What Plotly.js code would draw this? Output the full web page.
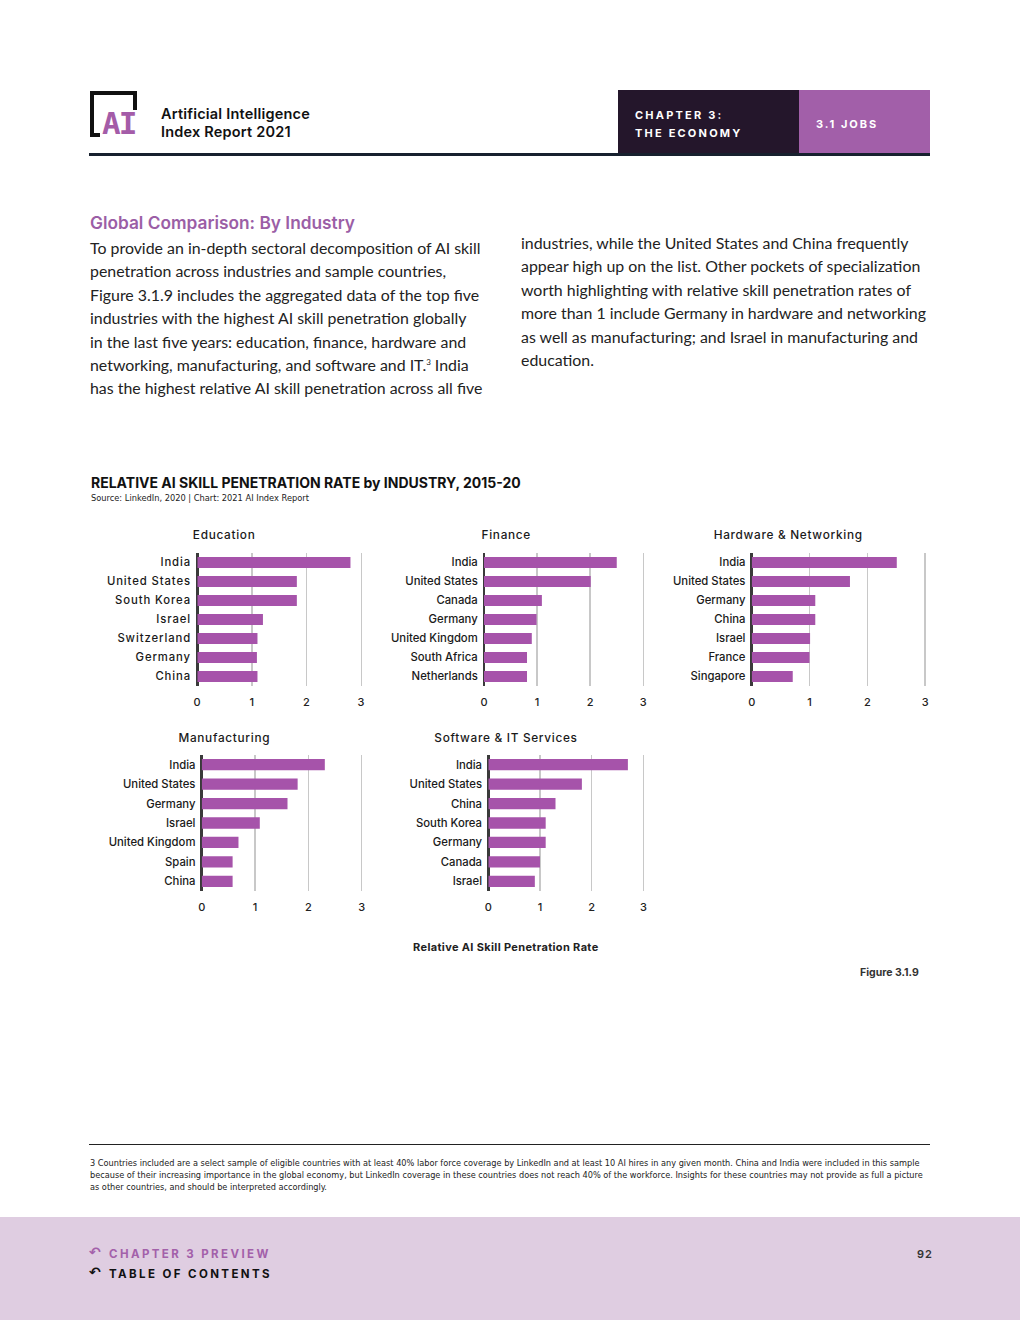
<!DOCTYPE html>
<html>
<head>
<meta charset="utf-8">
<script src="https://cdn.plot.ly/plotly-3.0.1.min.js"></script>
<style>
  html,body{margin:0;padding:0;background:#fff;}
  body{width:1020px;height:1320px;position:relative;overflow:hidden;font-family:Inter,"Noto Sans",sans-serif;}
  .abs{position:absolute;white-space:nowrap;}
  #chart{position:absolute;left:0;top:0;width:1020px;height:1320px;z-index:2;}
  #chart .xtick text{letter-spacing:0.7px;}
  #chart .ytick text{letter-spacing:0.9px;}
  .body{font-family:Lato,"Open Sans",sans-serif;font-size:15.9px;line-height:23.4px;color:#222;}
</style>
</head>
<body>
<!-- header -->
<div class="abs" style="left:90px;top:91px;width:47px;height:4px;background:#111;"></div>
<div class="abs" style="left:90px;top:91px;width:4px;height:46px;background:#111;"></div>
<div class="abs" style="left:133px;top:91px;width:4px;height:19px;background:#111;"></div>
<div class="abs" style="left:90px;top:133px;width:10px;height:4px;background:#111;"></div>
<div class="abs" style="left:102px;top:106px;font-family:'DejaVu Sans Mono',monospace;font-weight:bold;font-size:31px;color:#a45ca8;letter-spacing:-2px;line-height:34px;">AI</div>
<div class="abs" style="left:161px;top:105px;font-family:Inter,sans-serif;font-weight:600;font-size:14.5px;line-height:18px;color:#111;letter-spacing:0.2px;">Artificial Intelligence<br>Index Report 2021</div>
<div class="abs" style="left:618px;top:90px;width:181px;height:63px;background:#24162b;"></div>
<div class="abs" style="left:799px;top:90px;width:131px;height:63px;background:#a25fa9;"></div>
<div class="abs" style="left:635px;top:106px;font-weight:700;font-size:11px;letter-spacing:2.2px;line-height:18px;color:#fff;">CHAPTER 3:<br>THE ECONOMY</div>
<div class="abs" style="left:816px;top:117px;font-weight:700;font-size:11px;letter-spacing:2px;color:#fff;">3.1 JOBS</div>
<div class="abs" style="left:89px;top:153px;width:841px;height:3px;background:#17202e;"></div>

<!-- heading and text -->
<div class="abs" style="left:90px;top:212px;font-family:Inter,sans-serif;font-weight:600;font-size:17.3px;color:#9b5ea6;">Global Comparison: By Industry</div>
<div class="abs body" style="left:90px;top:236px;">To provide an in-depth sectoral decomposition of AI skill<br>penetration across industries and sample countries,<br>Figure 3.1.9 includes the aggregated data of the top five<br>industries with the highest AI skill penetration globally<br>in the last five years: education, finance, hardware and<br>networking, manufacturing, and software and IT.<sup style="font-size:8px;line-height:0">3</sup> India<br>has the highest relative AI skill penetration across all five</div>
<div class="abs body" style="left:521px;top:231px;">industries, while the United States and China frequently<br>appear high up on the list. Other pockets of specialization<br>worth highlighting with relative skill penetration rates of<br>more than 1 include Germany in hardware and networking<br>as well as manufacturing; and Israel in manufacturing and<br>education.</div>

<!-- footnote -->
<div class="abs" style="left:89px;top:1144px;width:841px;height:1px;background:#222;"></div>
<div class="abs" style="left:90px;top:1157px;font-family:'Liberation Sans Narrow','DejaVu Sans Condensed',sans-serif;font-size:9.1px;line-height:12px;color:#222;">3 Countries included are a select sample of eligible countries with at least 40% labor force coverage by LinkedIn and at least 10 AI hires in any given month. China and India were included in this sample<br>because of their increasing importance in the global economy, but LinkedIn coverage in these countries does not reach 40% of the workforce. Insights for these countries may not provide as full a picture<br>as other countries, and should be interpreted accordingly.</div>

<!-- footer -->
<div class="abs" style="left:0;top:1217px;width:1020px;height:103px;background:#dfcde1;"></div>
<div class="abs" style="left:89px;top:1244px;font-family:'DejaVu Sans',sans-serif;font-weight:700;font-size:14px;color:#a360aa;">&#x21B6;</div>
<div class="abs" style="left:109px;top:1247px;font-weight:700;font-size:11.5px;letter-spacing:2.4px;color:#a360aa;">CHAPTER 3 PREVIEW</div>
<div class="abs" style="left:89px;top:1264px;font-family:'DejaVu Sans',sans-serif;font-weight:700;font-size:14px;color:#111;">&#x21B6;</div>
<div class="abs" style="left:109px;top:1267px;font-weight:700;font-size:11.5px;letter-spacing:2.4px;color:#111;">TABLE OF CONTENTS</div>
<div class="abs" style="left:917px;top:1247px;font-weight:600;font-size:11px;letter-spacing:1px;color:#333;">92</div>

<div id="chart"></div>
<script>
// ---- data ----
const industries = ["Education", "Finance", "Hardware & Networking", "Manufacturing", "Software & IT Services"];

const educationCountries = ["India", "United States", "South Korea", "Israel", "Switzerland", "Germany", "China"];
const educationValues    = [2.80, 1.82, 1.82, 1.20, 1.10, 1.09, 1.10];

const financeCountries = ["India", "United States", "Canada", "Germany", "United Kingdom", "South Africa", "Netherlands"];
const financeValues    = [2.50, 2.01, 1.09, 0.99, 0.90, 0.81, 0.81];

const hardwareCountries = ["India", "United States", "Germany", "China", "Israel", "France", "Singapore"];
const hardwareValues    = [2.51, 1.70, 1.10, 1.10, 1.01, 1.00, 0.71];

const manufacturingCountries = ["India", "United States", "Germany", "Israel", "United Kingdom", "Spain", "China"];
const manufacturingValues    = [2.31, 1.80, 1.61, 1.09, 0.69, 0.58, 0.58];

const softwareCountries = ["India", "United States", "China", "South Korea", "Germany", "Canada", "Israel"];
const softwareValues    = [2.70, 1.81, 1.30, 1.11, 1.11, 1.00, 0.90];

const xTickValues = [0, 1, 2, 3];
const xAxisTitle = "Relative AI Skill Penetration Rate";
const chartTitle = "RELATIVE AI SKILL PENETRATION RATE by INDUSTRY, 2015-20";
const chartSource = "Source: LinkedIn, 2020 | Chart: 2021 AI Index Report";
const figureLabel = "Figure 3.1.9";

// ---- layout helpers (page pixel geometry) ----
const W = 1020, H = 1320;
const XMAX = 3.02;
const px = v => v / W;
const py = v => 1 - v / H;

const panels = [
  {cats: educationCountries,     vals: educationValues,     x0: 197.3, unit: 54.7, top: 553, bot: 686, titleX: 224, titleY: 535},
  {cats: financeCountries,       vals: financeValues,       x0: 484.0, unit: 53.1, top: 553, bot: 686, titleX: 506, titleY: 535},
  {cats: hardwareCountries,      vals: hardwareValues,      x0: 751.7, unit: 57.8, top: 553, bot: 686, titleX: 788, titleY: 535},
  {cats: manufacturingCountries, vals: manufacturingValues, x0: 201.7, unit: 53.3, top: 755, bot: 891, titleX: 224, titleY: 738},
  {cats: softwareCountries,      vals: softwareValues,      x0: 488.3, unit: 51.7, top: 755, bot: 891, titleX: 506, titleY: 738}
];

const FONT = "Inter, 'Noto Sans', sans-serif";
const BAR = "#a653aa";
const traces = [];
const layout = {
  width: W, height: H,
  margin: {l: 0, r: 0, t: 0, b: 0},
  paper_bgcolor: "rgba(0,0,0,0)",
  plot_bgcolor: "rgba(0,0,0,0)",
  showlegend: false,
  bargap: 0.42,
  font: {family: FONT, color: "#222", size: 11},
  annotations: []
};

panels.forEach((p, i) => {
  const n = i === 0 ? "" : String(i + 1);
  traces.push({
    type: "bar", orientation: "h",
    x: p.vals, y: p.cats,
    xaxis: "x" + n, yaxis: "y" + n,
    marker: {color: BAR},
    hoverinfo: "x+y"
  });
  layout["xaxis" + n] = {
    anchor: "y" + n,
    domain: [px(p.x0), px(p.x0 + XMAX * p.unit)],
    range: [0, XMAX],
    tickvals: xTickValues,
    showgrid: true, gridcolor: "#c8c8c8", gridwidth: 1.5,
    zeroline: true, zerolinecolor: "#3a3a3a", zerolinewidth: 2.5,
    showline: false,
    ticks: "outside", ticklen: 6, tickcolor: "rgba(0,0,0,0)",
    tickfont: {family: FONT, size: 11, color: "#222", weight: 500},
    fixedrange: true
  };
  layout["yaxis" + n] = {
    anchor: "x" + n,
    domain: [py(p.bot), py(p.top)],
    type: "category",
    autorange: "reversed",
    showgrid: false, zeroline: false, showline: false,
    ticks: "outside", ticklen: 3, tickcolor: "rgba(0,0,0,0)",
    tickfont: {family: FONT, size: 11.3, color: "#1a1a1a", weight: 500},
    fixedrange: true
  };
  layout.annotations.push({
    xref: "paper", yref: "paper", x: px(p.titleX), y: py(p.titleY),
    xanchor: "center", yanchor: "middle", showarrow: false,
    text: industries[i], font: {family: FONT, size: 11.8, color: "#1a1a1a", weight: 500}
  });
});

layout.annotations.push(
  {xref: "paper", yref: "paper", x: px(89), y: py(482), xanchor: "left", yanchor: "middle", showarrow: false,
   text: "<b>" + chartTitle + "</b>", font: {family: FONT, size: 14, color: "#111"}},
  {xref: "paper", yref: "paper", x: px(89), y: py(498), xanchor: "left", yanchor: "middle", showarrow: false,
   text: chartSource, font: {family: "'Liberation Sans Narrow', 'DejaVu Sans Condensed', sans-serif", size: 9.2, color: "#222"}},
  {xref: "paper", yref: "paper", x: px(506), y: py(947), xanchor: "center", yanchor: "middle", showarrow: false,
   text: "<b>" + xAxisTitle + "</b>", font: {family: FONT, size: 11, color: "#222"}},
  {xref: "paper", yref: "paper", x: px(921), y: py(972), xanchor: "right", yanchor: "middle", showarrow: false,
   text: "<b>" + figureLabel + "</b>", font: {family: FONT, size: 10.5, color: "#333"}}
);

Plotly.newPlot("chart", traces, layout, {displayModeBar: false, staticPlot: true}).then(gd => {
  gd.querySelectorAll(".annotation-text").forEach(t => {
    if (industries.includes(t.textContent)) t.style.letterSpacing = "0.7px";
    if (t.textContent === xAxisTitle) t.style.letterSpacing = "0.35px";
  });
});
</script>
</body>
</html>
